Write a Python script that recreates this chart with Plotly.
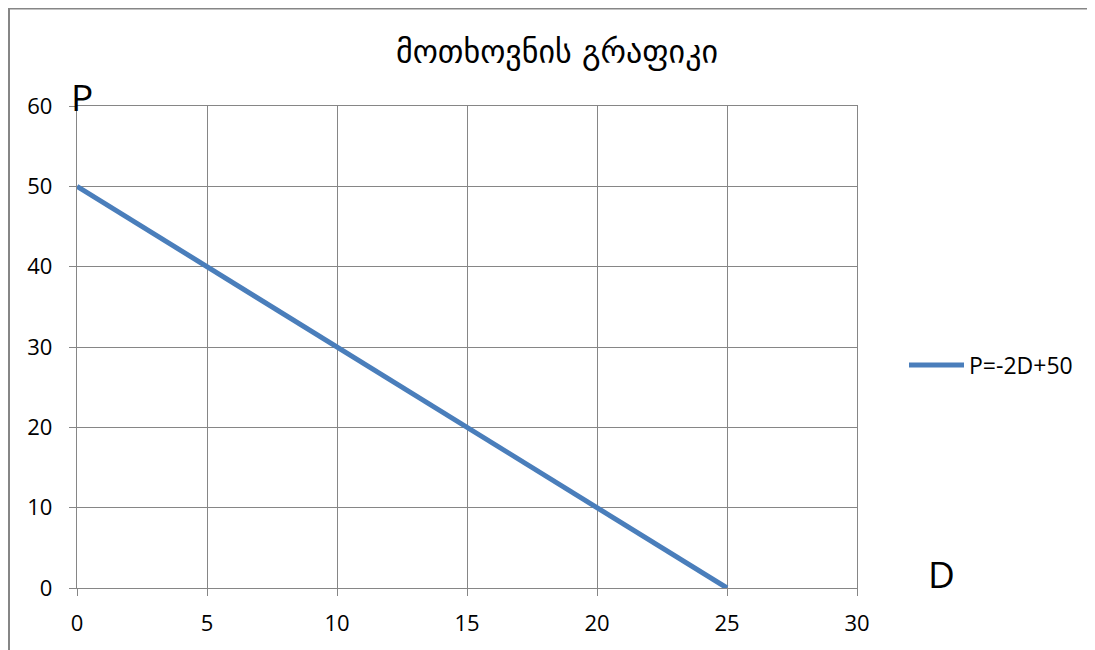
import plotly.graph_objects as go

D_values = [0, 5, 10, 15, 20, 25]
P_values = [50, 40, 30, 20, 10, 0]
series_name = "P=-2D+50"
title_text = "მოთხოვნის გრაფიკი"
x_ticks = [0, 5, 10, 15, 20, 25, 30]
y_ticks = [0, 10, 20, 30, 40, 50, 60]

GRID = "#868686"
FONT = "Open Sans, DejaVu Sans, sans-serif"

fig = go.Figure()
fig.add_trace(go.Scatter(x=D_values, y=P_values, mode="lines", name=series_name,
                         line=dict(color="#4A7EBB", width=5)))

O = 8  # page body margin
W, H = 1095 - O, 650 - O
L, R, T, B = 77 - O, 857 - O, 106 - O, 588 - O

def px(x):
    return (x - O - L) / (R - L)

def py(y):
    return (B - (y - O)) / (B - T)

fig.update_layout(
    width=W, height=H,
    margin=dict(l=L, r=W - R, t=T, b=H - B),
    paper_bgcolor="white", plot_bgcolor="white",
    font=dict(family=FONT, size=22, color="black"),
    title=dict(text=title_text, x=(557 - O) / W, xanchor="center", y=1 - (52 - O) / H, yanchor="middle",
               font=dict(family="DejaVu Sans, sans-serif", size=32, color="black")),
    showlegend=True,
    legend=dict(x=px(904), y=py(365), xanchor="left", yanchor="middle",
                font=dict(size=23), bgcolor="rgba(0,0,0,0)", itemwidth=55),
    xaxis=dict(range=[0, 30], tickvals=x_ticks, showgrid=True, gridcolor=GRID, gridwidth=1.3,
               zeroline=False, showline=True, linecolor=GRID, linewidth=1.3, mirror=True,
               ticks="outside", ticklen=7, tickcolor=GRID, tickwidth=1.3, ticklabelstandoff=8,
               tickfont=dict(size=22)),
    yaxis=dict(range=[0, 60], tickvals=y_ticks, showgrid=True, gridcolor=GRID, gridwidth=1.3,
               zeroline=False, showline=True, linecolor=GRID, linewidth=1.3, mirror=True,
               ticks="outside", ticklen=7, tickcolor=GRID, tickwidth=1.3, ticklabelstandoff=12,
               tickfont=dict(size=22)),
    annotations=[
        dict(text="P", xref="paper", yref="paper", x=px(82), y=py(96), showarrow=False,
             xanchor="center", yanchor="middle", font=dict(size=37)),
        dict(text="D", xref="paper", yref="paper", x=px(941), y=py(573), showarrow=False,
             xanchor="center", yanchor="middle", font=dict(size=37)),
    ],
    shapes=[
        dict(type="line", xref="paper", yref="paper", x0=px(8), x1=px(1110), y0=py(8.5), y1=py(8.5),
             line=dict(color=GRID, width=2)),
        dict(type="line", xref="paper", yref="paper", x0=px(9), x1=px(9), y0=py(8.5), y1=py(670),
             line=dict(color=GRID, width=2)),
    ],
)

fig.write_html("out.html")
